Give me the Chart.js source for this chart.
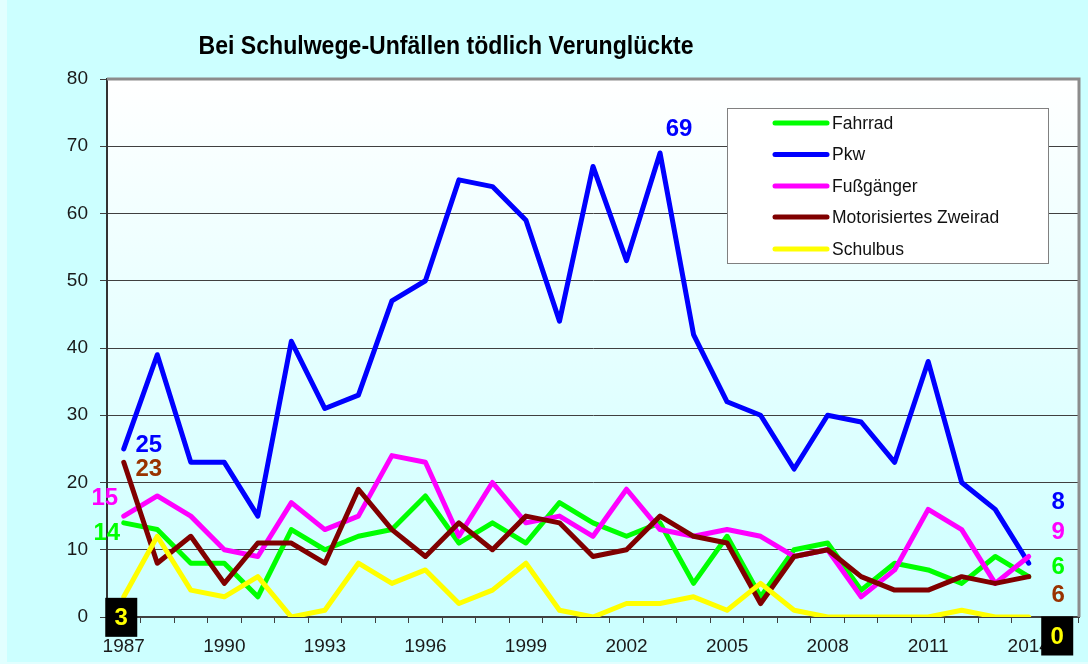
<!DOCTYPE html>
<html>
<head>
<meta charset="utf-8">
<script src="https://cdn.jsdelivr.net/npm/chart.js@4.4.1/dist/chart.umd.min.js"></script>
<style>
html, body { margin: 0; padding: 0; background: #CCFFFF; }
</style>
</head>
<body>
<canvas id="unfallChart" width="1088" height="664"></canvas>
<script>
var years = ["1987","1988","1989","1990","1991","1992","1993","1994","1995","1996",
             "1997","1998","1999","2000","2001","2002","2003","2004","2005","2006",
             "2007","2008","2009","2010","2011","2012","2013","2014","2015"];

var fahrrad     = [14,13, 8, 8, 3,13,10,12,13,18,11,14,11,17,14,12,14, 5,12, 3,10,11, 4, 8, 7, 5, 9, 6,null];
var pkw         = [25,39,23,23,15,41,31,33,47,50,65,64,59,44,67,53,69,42,32,30,22,30,29,23,38,20,16, 8,null];
var fussgaenger = [15,18,15,10, 9,17,13,15,24,23,12,20,14,15,12,19,13,12,13,12, 9,10, 3, 7,16,13, 5, 9,null];
var zweirad     = [23, 8,12, 5,11,11, 8,19,13, 9,14,10,15,14, 9,10,15,12,11, 2, 9,10, 6, 4, 4, 6, 5, 6,null];
var schulbus    = [ 3,12, 4, 3, 6, 0, 1, 8, 5, 7, 2, 4, 8, 1, 0, 2, 2, 3, 1, 5, 1, 0, 0, 0, 0, 1, 0, 0,null];

var yTicks = [0, 10, 20, 30, 40, 50, 60, 70, 80];

// labels written next to single points: dataset, year index, colour, offset from the point
var pointLabels = [
    { ds: 1, i: 0,  color: "#0000FF", dx: 25,   dy: -5 },
    { ds: 3, i: 0,  color: "#993300", dx: 25,   dy: 6 },
    { ds: 2, i: 0,  color: "#FF00FF", dx: -19,  dy: -19 },
    { ds: 0, i: 0,  color: "#00FF00", dx: -17,  dy: 10 },
    { ds: 4, i: 0,  color: "#FFFF00", dx: -2.5, dy: 20.5, box: true },
    { ds: 1, i: 16, color: "#0000FF", dx: 19,   dy: -25 },
    { ds: 1, i: 27, color: "#0000FF", dx: 29.5, dy: -61.5 },
    { ds: 2, i: 27, color: "#FF00FF", dx: 29.5, dy: -25 },
    { ds: 0, i: 27, color: "#00FF00", dx: 29.5, dy: -10 },
    { ds: 3, i: 27, color: "#993300", dx: 29.5, dy: 18 },
    { ds: 4, i: 27, color: "#FFFF00", dx: 28.5, dy: 19, box: true }
];

var plotBackground = {
    id: "plotBackground",
    beforeDraw(chart) {
        var ctx = chart.ctx, a = chart.chartArea;
        ctx.save();
        ctx.fillStyle = "#E2FFFF";
        ctx.fillRect(0, 0, chart.width, chart.height);
        ctx.fillStyle = "#CCFFFF";
        ctx.fillRect(7, 0, chart.width - 7, 662);
        var g = ctx.createLinearGradient(0, a.top, 0, a.bottom);
        g.addColorStop(0, "#FFFFFF");
        g.addColorStop(1, "#CCFFFF");
        ctx.fillStyle = g;
        ctx.fillRect(a.left, a.top, a.right - a.left, a.bottom - a.top);
        ctx.restore();
    },
    beforeDatasetsDraw(chart) {
        var ctx = chart.ctx, a = chart.chartArea;
        ctx.save();
        ctx.strokeStyle = "#8C8C8C";
        ctx.lineWidth = 3;
        ctx.beginPath();
        ctx.moveTo(a.left, a.top);
        ctx.lineTo(a.right, a.top);
        ctx.lineTo(a.right, a.bottom);
        ctx.stroke();
        ctx.restore();
    }
};

var extras = {
    id: "extras",
    afterDraw(chart) {
        var ctx = chart.ctx;
        var xs = chart.scales.x, ys = chart.scales.y;
        ctx.save();

        // title
        ctx.fillStyle = "#000";
        ctx.font = "bold 25px 'Liberation Sans', Arial, sans-serif";
        ctx.textAlign = "center";
        ctx.textBaseline = "middle";
        ctx.fillText("Bei Schulwege-Unfällen tödlich Verunglückte", 446, 47, 495);

        // legend inside the plot
        ctx.fillStyle = "#FFFFFF";
        ctx.fillRect(727, 108, 322, 156);
        ctx.strokeStyle = "#808080";
        ctx.lineWidth = 1;
        ctx.strokeRect(727.5, 108.5, 321, 155);
        var rows = [123, 154.5, 186, 217, 249];
        ctx.font = "17.5px 'Liberation Sans', Arial, sans-serif";
        ctx.textAlign = "left";
        chart.data.datasets.forEach(function (ds, k) {
            ctx.strokeStyle = ds.borderColor;
            ctx.lineWidth = 5;
            ctx.lineCap = "round";
            ctx.beginPath();
            ctx.moveTo(775, rows[k]);
            ctx.lineTo(827, rows[k]);
            ctx.stroke();
            ctx.fillStyle = "#111";
            ctx.fillText(ds.label, 832, rows[k] + 1);
        });

        // value labels
        ctx.font = "bold 24px 'Liberation Sans', Arial, sans-serif";
        ctx.textAlign = "center";
        pointLabels.forEach(function (l) {
            var v = chart.data.datasets[l.ds].data[l.i];
            var px = xs.getPixelForValue(l.i) + l.dx;
            var py = ys.getPixelForValue(v) + l.dy;
            if (l.box) {
                ctx.fillStyle = "#000";
                ctx.fillRect(px - 16, py - 19.5, 32, 39);
            }
            ctx.fillStyle = l.color;
            ctx.fillText(String(v), px, py + 1);
        });
        ctx.restore();
    }
};

var ctx = document.getElementById("unfallChart").getContext("2d");

var myChart = new Chart(ctx, {
    type: "line",
    data: {
        labels: years,
        datasets: [
            { label: "Fahrrad", data: fahrrad, borderColor: "#00FF00", order: 5 },
            { label: "Pkw", data: pkw, borderColor: "#0000FF", order: 4 },
            { label: "Fußgänger", data: fussgaenger, borderColor: "#FF00FF", order: 3 },
            { label: "Motorisiertes Zweirad", data: zweirad, borderColor: "#800000", order: 2 },
            { label: "Schulbus", data: schulbus, borderColor: "#FFFF00", order: 1 }
        ]
    },
    options: {
        responsive: false,
        animation: false,
        layout: { padding: { top: 79, right: 9, left: 0, bottom: 0 } },
        elements: {
            line: { borderWidth: 5, tension: 0, borderJoinStyle: "round", borderCapStyle: "round", fill: false },
            point: { radius: 0, hoverRadius: 0 }
        },
        scales: {
            x: {
                type: "category",
                offset: true,
                afterFit: function (s) { s.height = 47; },
                grid: { offset: true, drawOnChartArea: false, drawTicks: true, tickLength: 6, color: "#404040" },
                border: { display: true, color: "#404040", width: 2 },
                ticks: {
                    autoSkip: false,
                    maxRotation: 0,
                    padding: 12,
                    color: "#1a1a1a",
                    font: { family: "'Liberation Sans', Arial, sans-serif", size: 19 },
                    callback: function (val, i) { return i % 3 === 0 ? years[i] : ""; }
                }
            },
            y: {
                min: 0,
                max: 80,
                afterFit: function (s) { s.width = 107; },
                afterBuildTicks: function (s) { s.ticks = yTicks.map(function (v) { return { value: v }; }); },
                grid: { color: "#404040", lineWidth: 1, tickLength: 7 },
                border: { display: true, color: "#333333", width: 2 },
                ticks: {
                    padding: 12,
                    color: "#1a1a1a",
                    font: { family: "'Liberation Sans', Arial, sans-serif", size: 19 }
                }
            }
        },
        plugins: {
            legend: { display: false },
            title: { display: false },
            tooltip: { enabled: false }
        }
    },
    plugins: [plotBackground, extras]
});
</script>
</body>
</html>
